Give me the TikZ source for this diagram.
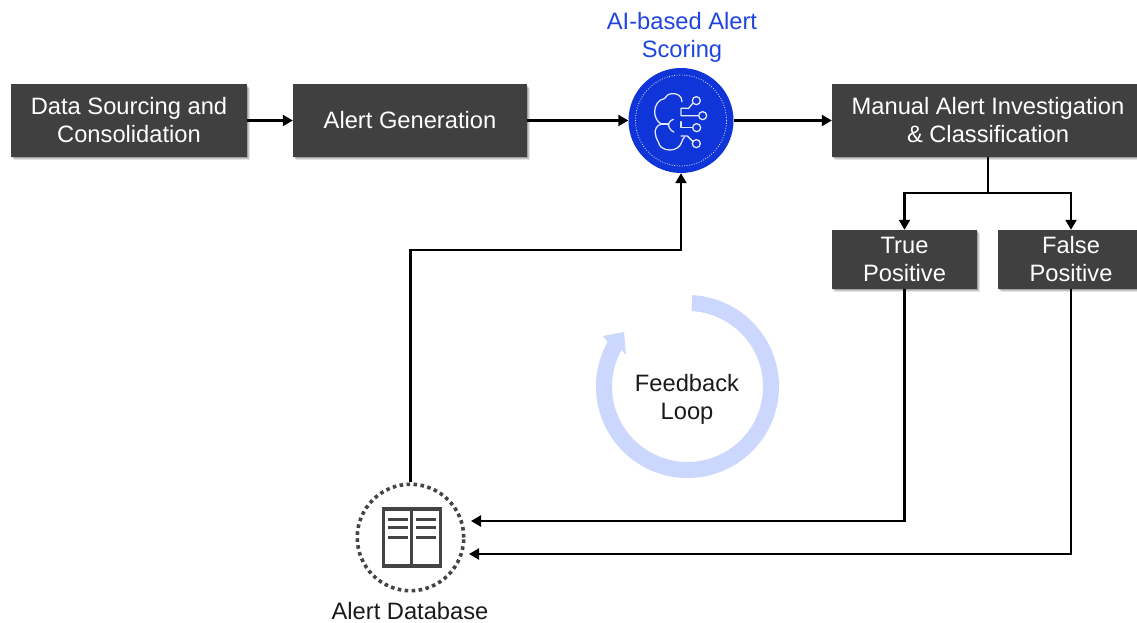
\documentclass[tikz,border=0pt]{standalone}
\usepackage{fontspec}
\setmainfont{Liberation Sans}
\usetikzlibrary{shadows,arrows.meta,calc}
\definecolor{boxgray}{HTML}{404040}
\definecolor{aiblue}{HTML}{0F35D8}
\definecolor{labelblue}{HTML}{1F45E0}
\definecolor{ringblue}{HTML}{CCD7FE}
\definecolor{textblack}{HTML}{1A1A1A}
\definecolor{iconink}{HTML}{444444}
\tikzset{
  x=1pt,y=1pt,
  txt/.style={font=\fontsize{23.7}{28}\selectfont,align=center,inner sep=0pt},
  darkbox/.style={txt,fill=boxgray,text=white,draw=none,
    drop shadow={shadow xshift=2.6pt,shadow yshift=-3.2pt,opacity=.10,fill=black},
    drop shadow={shadow xshift=1.8pt,shadow yshift=-2.2pt,opacity=.14,fill=black},
    drop shadow={shadow xshift=1pt,shadow yshift=-1.2pt,opacity=.18,fill=black}},
  conn/.style={line width=2.1pt,black,-{Triangle[length=10pt,width=11pt]}},
  plainconn/.style={line width=2.1pt,black},
  brainline/.style={draw=white!88!aiblue,line width=1.3pt,line join=round,line cap=round}
}
\begin{document}
\begin{tikzpicture}
\useasboundingbox (0,0) rectangle (1137,-623);
\clip (0,0) rectangle (1137,-623);
% ring
\def\cx{687.5}\def\cy{-386.5}
\fill[ringblue] ($(\cx,\cy)+(87:91.5)$) arc[start angle=87,end angle=-209,radius=91.5]
  -- (603,-336) -- (624,-332) -- (626,-355)
  -- ($(\cx,\cy)+(-209:75.5)$) arc[start angle=-209,end angle=87,radius=75.5] -- cycle;
% boxes
\node[darkbox,minimum width=236pt,minimum height=72pt] (src) at (129,-120.5) {Data Sourcing and\\Consolidation};
\node[darkbox,minimum width=234pt,minimum height=72pt] (gen) at (410,-120.5) {Alert Generation};
\node[darkbox,minimum width=312pt,minimum height=72pt] (man) at (988,-120.5) {Manual Alert Investigation\\\& Classification};
\node[darkbox,minimum width=145pt,minimum height=59pt] (tp) at (904.5,-259.5) {True\\Positive};
\node[darkbox,minimum width=146pt,minimum height=59pt] (fp) at (1071,-259.5) {False\\Positive};
% AI circle
\node[circle,fill=aiblue,minimum size=105pt,inner sep=0pt] (ai) at (681,-120.5) {};
\draw[white!85!aiblue,line width=.8pt,dash pattern=on .9pt off 1.6pt] (ai.center) circle[radius=45.5];
\begin{scope}[shift={(610,-50)},x=.3333pt,y=-.3333pt]
  \draw[brainline] (216,155) .. controls (216,138) and (202,130) .. (188,131)
    .. controls (176,131) and (168,137) .. (163,146)
    .. controls (146,148) and (134,166) .. (134,185)
    .. controls (134,202) and (142,216) .. (154,222)
    .. controls (140,226) and (134,238) .. (136,250)
    .. controls (137,266) and (146,274) .. (148,284)
    .. controls (152,294) and (166,300) .. (180,300)
    .. controls (198,300) and (212,290) .. (216,274)
    .. controls (218,268) and (220,264) .. (224,261);
  \draw[brainline] (154,222) -- (174,222);
  \draw[brainline] (190,208) .. controls (178,212) and (172,224) .. (178,234)
    .. controls (182,241) and (188,245) .. (192,246);
  \draw[brainline] (248,160) -- (236,175) -- (213,175) -- (213,197) -- (266,197);
  \draw[brainline] (213,215) -- (213,233) -- (247,233);
  \draw[brainline] (213,258) -- (232,258) -- (248,274);
  \draw[brainline] (259,152) circle[radius=12];
  \draw[brainline] (278,197) circle[radius=12];
  \draw[brainline] (260,233) circle[radius=12];
  \draw[brainline] (259,281) circle[radius=12];
\end{scope}
\node[txt,text=labelblue] (ailabel) at (682,-37) {AI-based Alert\\Scoring};
% database
\node[circle,minimum size=106.5pt,inner sep=0pt,draw=iconink,line width=3.6pt,dash pattern=on 3.6pt off 3.4pt] (db) at (410.5,-537.5) {};
\begin{scope}[shift={(340,-470)},x=.3333pt,y=-.3333pt]
  \draw[iconink,line width=3.2pt] (130,117) rectangle (302,288);
  \draw[iconink,line width=3pt] (216,117) -- (216,288);
  \foreach \yy in {148,173,203}{
    \draw[iconink,line width=3.2pt] (145,\yy) -- (203,\yy);
    \draw[iconink,line width=3.2pt] (229,\yy) -- (288,\yy);
  }
\end{scope}
\node[txt,text=textblack] (dblabel) at (410,-611) {Alert Database};
\node[txt,text=textblack] (fb) at (687,-399) {Feedback\\Loop};
% connectors
\coordinate (split) at (988,-193);
\coordinate (upturn) at (681,-250);
\coordinate (tpend) at (471,-521);
\coordinate (fpend) at (469,-554);
\draw[conn] (src.east) -- (gen.west);
\draw[conn] (gen.east) -- (ai.west);
\draw[conn] (ai.east) -- (man.west);
\draw[plainconn] (man.south) -- (split);
\draw[conn] (split) -| (tp.north);
\draw[conn] (split) -| (fp.north);
\draw[conn] (db.north) |- (upturn) -- (ai.south);
\draw[conn] (tp.south) |- (tpend);
\draw[conn] (fp.south) |- (fpend);
\end{tikzpicture}
\end{document}
